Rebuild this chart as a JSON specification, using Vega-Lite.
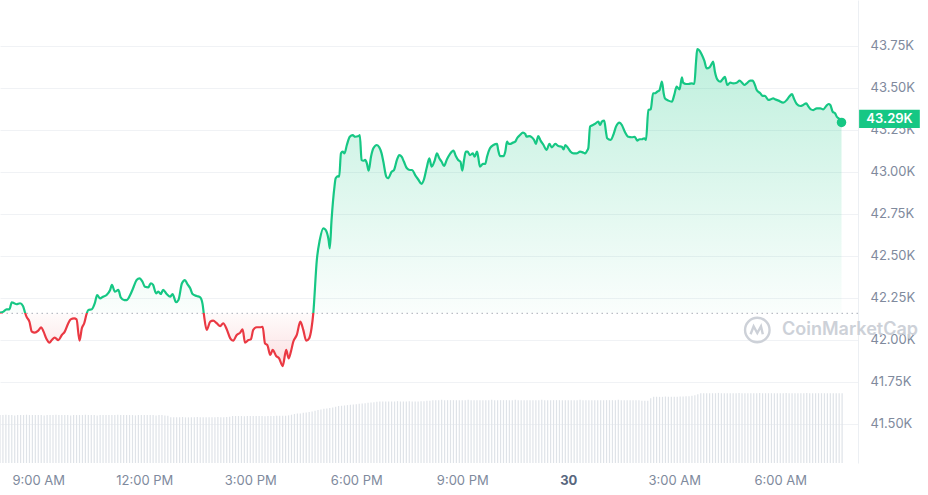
{
"$schema":"https://vega.github.io/schema/vega-lite/v6.json",
"width":858,"height":463,
"autosize":{"type":"none"},
"padding":{"left":0,"top":0,"right":70,"bottom":32},
"background":"#ffffff",
"config":{"view":{"stroke":null},"font":"Inter"},
"datasets":{
"price":[
{"t":"2024-01-29T07:55Z","p":42160},{"t":"2024-01-29T08:01Z","p":42166},{"t":"2024-01-29T08:06Z","p":42180},{"t":"2024-01-29T08:11Z","p":42180},{"t":"2024-01-29T08:15Z","p":42222},{"t":"2024-01-29T08:19Z","p":42216},{"t":"2024-01-29T08:23Z","p":42210},{"t":"2024-01-29T08:29Z","p":42216},{"t":"2024-01-29T08:34Z","p":42200},{"t":"2024-01-29T08:37Z","p":42166},{"t":"2024-01-29T08:40Z","p":42136},{"t":"2024-01-29T08:45Z","p":42106},{"t":"2024-01-29T08:49Z","p":42047},{"t":"2024-01-29T08:54Z","p":42041},{"t":"2024-01-29T09:00Z","p":42053},{"t":"2024-01-29T09:05Z","p":42073},{"t":"2024-01-29T09:09Z","p":42047},{"t":"2024-01-29T09:14Z","p":42003},{"t":"2024-01-29T09:19Z","p":41981},{"t":"2024-01-29T09:23Z","p":41997},{"t":"2024-01-29T09:28Z","p":42011},{"t":"2024-01-29T09:34Z","p":41997},{"t":"2024-01-29T09:40Z","p":42027},{"t":"2024-01-29T09:45Z","p":42047},{"t":"2024-01-29T09:51Z","p":42097},{"t":"2024-01-29T09:55Z","p":42120},{"t":"2024-01-29T10:01Z","p":42126},{"t":"2024-01-29T10:05Z","p":42120},{"t":"2024-01-29T10:10Z","p":41993},{"t":"2024-01-29T10:14Z","p":42067},{"t":"2024-01-29T10:18Z","p":42097},{"t":"2024-01-29T10:22Z","p":42152},{"t":"2024-01-29T10:25Z","p":42176},{"t":"2024-01-29T10:31Z","p":42180},{"t":"2024-01-29T10:36Z","p":42216},{"t":"2024-01-29T10:40Z","p":42265},{"t":"2024-01-29T10:45Z","p":42245},{"t":"2024-01-29T10:50Z","p":42255},{"t":"2024-01-29T10:56Z","p":42265},{"t":"2024-01-29T11:02Z","p":42295},{"t":"2024-01-29T11:05Z","p":42325},{"t":"2024-01-29T11:10Z","p":42285},{"t":"2024-01-29T11:16Z","p":42295},{"t":"2024-01-29T11:20Z","p":42251},{"t":"2024-01-29T11:26Z","p":42235},{"t":"2024-01-29T11:30Z","p":42235},{"t":"2024-01-29T11:36Z","p":42265},{"t":"2024-01-29T11:41Z","p":42305},{"t":"2024-01-29T11:47Z","p":42354},{"t":"2024-01-29T11:52Z","p":42364},{"t":"2024-01-29T11:57Z","p":42344},{"t":"2024-01-29T12:01Z","p":42314},{"t":"2024-01-29T12:07Z","p":42311},{"t":"2024-01-29T12:11Z","p":42335},{"t":"2024-01-29T12:15Z","p":42325},{"t":"2024-01-29T12:20Z","p":42275},{"t":"2024-01-29T12:24Z","p":42285},{"t":"2024-01-29T12:28Z","p":42271},{"t":"2024-01-29T12:32Z","p":42295},{"t":"2024-01-29T12:38Z","p":42271},{"t":"2024-01-29T12:44Z","p":42255},{"t":"2024-01-29T12:48Z","p":42271},{"t":"2024-01-29T12:54Z","p":42222},{"t":"2024-01-29T12:58Z","p":42235},{"t":"2024-01-29T13:04Z","p":42335},{"t":"2024-01-29T13:09Z","p":42354},{"t":"2024-01-29T13:13Z","p":42331},{"t":"2024-01-29T13:18Z","p":42305},{"t":"2024-01-29T13:22Z","p":42271},{"t":"2024-01-29T13:29Z","p":42259},{"t":"2024-01-29T13:35Z","p":42251},{"t":"2024-01-29T13:39Z","p":42211},{"t":"2024-01-29T13:41Z","p":42156},{"t":"2024-01-29T13:46Z","p":42057},{"t":"2024-01-29T13:52Z","p":42106},{"t":"2024-01-29T13:57Z","p":42112},{"t":"2024-01-29T14:03Z","p":42097},{"t":"2024-01-29T14:09Z","p":42080},{"t":"2024-01-29T14:14Z","p":42097},{"t":"2024-01-29T14:20Z","p":42061},{"t":"2024-01-29T14:26Z","p":42007},{"t":"2024-01-29T14:31Z","p":41993},{"t":"2024-01-29T14:37Z","p":42027},{"t":"2024-01-29T14:43Z","p":42041},{"t":"2024-01-29T14:47Z","p":42061},{"t":"2024-01-29T14:51Z","p":41981},{"t":"2024-01-29T14:57Z","p":41997},{"t":"2024-01-29T15:01Z","p":42001},{"t":"2024-01-29T15:05Z","p":42057},{"t":"2024-01-29T15:11Z","p":42073},{"t":"2024-01-29T15:17Z","p":42073},{"t":"2024-01-29T15:21Z","p":42076},{"t":"2024-01-29T15:25Z","p":41977},{"t":"2024-01-29T15:29Z","p":41967},{"t":"2024-01-29T15:34Z","p":41908},{"t":"2024-01-29T15:38Z","p":41938},{"t":"2024-01-29T15:44Z","p":41902},{"t":"2024-01-29T15:49Z","p":41888},{"t":"2024-01-29T15:55Z","p":41842},{"t":"2024-01-29T16:01Z","p":41938},{"t":"2024-01-29T16:05Z","p":41888},{"t":"2024-01-29T16:09Z","p":41928},{"t":"2024-01-29T16:13Z","p":41987},{"t":"2024-01-29T16:19Z","p":42027},{"t":"2024-01-29T16:25Z","p":42106},{"t":"2024-01-29T16:30Z","p":42057},{"t":"2024-01-29T16:35Z","p":41993},{"t":"2024-01-29T16:40Z","p":42007},{"t":"2024-01-29T16:44Z","p":42067},{"t":"2024-01-29T16:47Z","p":42156},{"t":"2024-01-29T16:53Z","p":42473},{"t":"2024-01-29T16:58Z","p":42592},{"t":"2024-01-29T17:04Z","p":42662},{"t":"2024-01-29T17:08Z","p":42652},{"t":"2024-01-29T17:13Z","p":42592},{"t":"2024-01-29T17:15Z","p":42543},{"t":"2024-01-29T17:18Z","p":42711},{"t":"2024-01-29T17:23Z","p":42910},{"t":"2024-01-29T17:25Z","p":42960},{"t":"2024-01-29T17:29Z","p":42973},{"t":"2024-01-29T17:31Z","p":42969},{"t":"2024-01-29T17:34Z","p":43108},{"t":"2024-01-29T17:37Z","p":43118},{"t":"2024-01-29T17:40Z","p":43108},{"t":"2024-01-29T17:44Z","p":43158},{"t":"2024-01-29T17:49Z","p":43207},{"t":"2024-01-29T17:54Z","p":43217},{"t":"2024-01-29T17:58Z","p":43207},{"t":"2024-01-29T18:04Z","p":43211},{"t":"2024-01-29T18:06Z","p":43217},{"t":"2024-01-29T18:09Z","p":43069},{"t":"2024-01-29T18:12Z","p":43064},{"t":"2024-01-29T18:15Z","p":43069},{"t":"2024-01-29T18:18Z","p":43049},{"t":"2024-01-29T18:21Z","p":43005},{"t":"2024-01-29T18:25Z","p":43088},{"t":"2024-01-29T18:29Z","p":43138},{"t":"2024-01-29T18:35Z","p":43158},{"t":"2024-01-29T18:39Z","p":43144},{"t":"2024-01-29T18:43Z","p":43108},{"t":"2024-01-29T18:46Z","p":43058},{"t":"2024-01-29T18:51Z","p":42969},{"t":"2024-01-29T18:54Z","p":42960},{"t":"2024-01-29T19:00Z","p":42999},{"t":"2024-01-29T19:04Z","p":43009},{"t":"2024-01-29T19:09Z","p":43069},{"t":"2024-01-29T19:13Z","p":43098},{"t":"2024-01-29T19:17Z","p":43088},{"t":"2024-01-29T19:21Z","p":43058},{"t":"2024-01-29T19:26Z","p":43019},{"t":"2024-01-29T19:31Z","p":43009},{"t":"2024-01-29T19:35Z","p":43009},{"t":"2024-01-29T19:40Z","p":42979},{"t":"2024-01-29T19:45Z","p":42954},{"t":"2024-01-29T19:51Z","p":42926},{"t":"2024-01-29T19:55Z","p":42954},{"t":"2024-01-29T20:00Z","p":43029},{"t":"2024-01-29T20:04Z","p":43079},{"t":"2024-01-29T20:08Z","p":43029},{"t":"2024-01-29T20:13Z","p":43064},{"t":"2024-01-29T20:17Z","p":43108},{"t":"2024-01-29T20:21Z","p":43079},{"t":"2024-01-29T20:25Z","p":43058},{"t":"2024-01-29T20:29Z","p":43033},{"t":"2024-01-29T20:34Z","p":43073},{"t":"2024-01-29T20:39Z","p":43104},{"t":"2024-01-29T20:45Z","p":43124},{"t":"2024-01-29T20:49Z","p":43092},{"t":"2024-01-29T20:53Z","p":43069},{"t":"2024-01-29T20:57Z","p":43058},{"t":"2024-01-29T21:00Z","p":43005},{"t":"2024-01-29T21:03Z","p":43069},{"t":"2024-01-29T21:06Z","p":43118},{"t":"2024-01-29T21:09Z","p":43118},{"t":"2024-01-29T21:13Z","p":43098},{"t":"2024-01-29T21:18Z","p":43108},{"t":"2024-01-29T21:21Z","p":43088},{"t":"2024-01-29T21:25Z","p":43118},{"t":"2024-01-29T21:27Z","p":43088},{"t":"2024-01-29T21:30Z","p":43029},{"t":"2024-01-29T21:35Z","p":43045},{"t":"2024-01-29T21:39Z","p":43045},{"t":"2024-01-29T21:42Z","p":43088},{"t":"2024-01-29T21:47Z","p":43138},{"t":"2024-01-29T21:53Z","p":43158},{"t":"2024-01-29T21:59Z","p":43164},{"t":"2024-01-29T22:01Z","p":43128},{"t":"2024-01-29T22:04Z","p":43092},{"t":"2024-01-29T22:10Z","p":43092},{"t":"2024-01-29T22:13Z","p":43118},{"t":"2024-01-29T22:16Z","p":43178},{"t":"2024-01-29T22:18Z","p":43168},{"t":"2024-01-29T22:21Z","p":43164},{"t":"2024-01-29T22:26Z","p":43172},{"t":"2024-01-29T22:30Z","p":43178},{"t":"2024-01-29T22:33Z","p":43198},{"t":"2024-01-29T22:38Z","p":43217},{"t":"2024-01-29T22:43Z","p":43231},{"t":"2024-01-29T22:47Z","p":43223},{"t":"2024-01-29T22:49Z","p":43207},{"t":"2024-01-29T22:54Z","p":43211},{"t":"2024-01-29T22:58Z","p":43204},{"t":"2024-01-29T23:02Z","p":43188},{"t":"2024-01-29T23:05Z","p":43164},{"t":"2024-01-29T23:09Z","p":43211},{"t":"2024-01-29T23:13Z","p":43184},{"t":"2024-01-29T23:18Z","p":43158},{"t":"2024-01-29T23:23Z","p":43128},{"t":"2024-01-29T23:28Z","p":43164},{"t":"2024-01-29T23:32Z","p":43144},{"t":"2024-01-29T23:38Z","p":43164},{"t":"2024-01-29T23:43Z","p":43152},{"t":"2024-01-29T23:49Z","p":43148},{"t":"2024-01-29T23:52Z","p":43132},{"t":"2024-01-29T23:55Z","p":43158},
{"t":"2024-01-30T00:00Z","p":43138},{"t":"2024-01-30T00:04Z","p":43118},{"t":"2024-01-30T00:09Z","p":43108},{"t":"2024-01-30T00:14Z","p":43108},{"t":"2024-01-30T00:20Z","p":43118},{"t":"2024-01-30T00:26Z","p":43112},{"t":"2024-01-30T00:29Z","p":43108},{"t":"2024-01-30T00:32Z","p":43124},{"t":"2024-01-30T00:34Z","p":43138},{"t":"2024-01-30T00:37Z","p":43267},{"t":"2024-01-30T00:40Z","p":43274},{"t":"2024-01-30T00:45Z","p":43283},{"t":"2024-01-30T00:51Z","p":43297},{"t":"2024-01-30T00:54Z","p":43277},{"t":"2024-01-30T00:57Z","p":43297},{"t":"2024-01-30T01:01Z","p":43303},{"t":"2024-01-30T01:04Z","p":43237},{"t":"2024-01-30T01:06Z","p":43198},{"t":"2024-01-30T01:12Z","p":43188},{"t":"2024-01-30T01:17Z","p":43223},{"t":"2024-01-30T01:21Z","p":43267},{"t":"2024-01-30T01:27Z","p":43291},{"t":"2024-01-30T01:31Z","p":43277},{"t":"2024-01-30T01:36Z","p":43237},{"t":"2024-01-30T01:42Z","p":43207},{"t":"2024-01-30T01:48Z","p":43204},{"t":"2024-01-30T01:53Z","p":43207},{"t":"2024-01-30T01:57Z","p":43184},{"t":"2024-01-30T02:01Z","p":43192},{"t":"2024-01-30T02:05Z","p":43192},{"t":"2024-01-30T02:09Z","p":43198},{"t":"2024-01-30T02:12Z","p":43188},{"t":"2024-01-30T02:16Z","p":43366},{"t":"2024-01-30T02:20Z","p":43370},{"t":"2024-01-30T02:24Z","p":43466},{"t":"2024-01-30T02:27Z","p":43466},{"t":"2024-01-30T02:31Z","p":43475},{"t":"2024-01-30T02:35Z","p":43485},{"t":"2024-01-30T02:39Z","p":43535},{"t":"2024-01-30T02:42Z","p":43466},{"t":"2024-01-30T02:44Z","p":43436},{"t":"2024-01-30T02:50Z","p":43422},{"t":"2024-01-30T02:56Z","p":43416},{"t":"2024-01-30T03:00Z","p":43456},{"t":"2024-01-30T03:04Z","p":43505},{"t":"2024-01-30T03:09Z","p":43489},{"t":"2024-01-30T03:13Z","p":43561},{"t":"2024-01-30T03:15Z","p":43529},{"t":"2024-01-30T03:20Z","p":43521},{"t":"2024-01-30T03:24Z","p":43521},{"t":"2024-01-30T03:30Z","p":43525},{"t":"2024-01-30T03:34Z","p":43521},{"t":"2024-01-30T03:37Z","p":43654},{"t":"2024-01-30T03:39Z","p":43728},{"t":"2024-01-30T03:43Z","p":43719},{"t":"2024-01-30T03:47Z","p":43694},{"t":"2024-01-30T03:51Z","p":43660},{"t":"2024-01-30T03:55Z","p":43614},{"t":"2024-01-30T04:00Z","p":43620},{"t":"2024-01-30T04:04Z","p":43644},{"t":"2024-01-30T04:06Z","p":43654},{"t":"2024-01-30T04:09Z","p":43594},{"t":"2024-01-30T04:13Z","p":43549},{"t":"2024-01-30T04:18Z","p":43535},{"t":"2024-01-30T04:22Z","p":43549},{"t":"2024-01-30T04:26Z","p":43564},{"t":"2024-01-30T04:30Z","p":43515},{"t":"2024-01-30T04:35Z","p":43529},{"t":"2024-01-30T04:40Z","p":43525},{"t":"2024-01-30T04:46Z","p":43529},{"t":"2024-01-30T04:51Z","p":43541},{"t":"2024-01-30T04:55Z","p":43529},{"t":"2024-01-30T04:59Z","p":43515},{"t":"2024-01-30T05:03Z","p":43525},{"t":"2024-01-30T05:09Z","p":43541},{"t":"2024-01-30T05:13Z","p":43541},{"t":"2024-01-30T05:17Z","p":43515},{"t":"2024-01-30T05:20Z","p":43485},{"t":"2024-01-30T05:26Z","p":43466},{"t":"2024-01-30T05:30Z","p":43450},{"t":"2024-01-30T05:34Z","p":43450},{"t":"2024-01-30T05:40Z","p":43426},{"t":"2024-01-30T05:44Z","p":43430},{"t":"2024-01-30T05:48Z","p":43436},{"t":"2024-01-30T05:51Z","p":43430},{"t":"2024-01-30T05:57Z","p":43422},{"t":"2024-01-30T06:05Z","p":43410},{"t":"2024-01-30T06:11Z","p":43426},{"t":"2024-01-30T06:15Z","p":43445},{"t":"2024-01-30T06:20Z","p":43461},{"t":"2024-01-30T06:23Z","p":43436},{"t":"2024-01-30T06:28Z","p":43402},{"t":"2024-01-30T06:34Z","p":43390},{"t":"2024-01-30T06:39Z","p":43396},{"t":"2024-01-30T06:44Z","p":43406},{"t":"2024-01-30T06:48Z","p":43386},{"t":"2024-01-30T06:52Z","p":43370},{"t":"2024-01-30T06:56Z","p":43366},{"t":"2024-01-30T07:02Z","p":43376},{"t":"2024-01-30T07:08Z","p":43376},{"t":"2024-01-30T07:13Z","p":43370},{"t":"2024-01-30T07:18Z","p":43390},{"t":"2024-01-30T07:22Z","p":43402},{"t":"2024-01-30T07:25Z","p":43396},{"t":"2024-01-30T07:29Z","p":43356},{"t":"2024-01-30T07:33Z","p":43347},{"t":"2024-01-30T07:36Z","p":43326},{"t":"2024-01-30T07:42Z","p":43307},{"t":"2024-01-30T07:44Z","p":43292}
],
"vol":[
{"t":"2024-01-29T07:55Z","v":14.5},{"t":"2024-01-29T08:00Z","v":14.5},{"t":"2024-01-29T08:05Z","v":14.6},{"t":"2024-01-29T08:10Z","v":14.5},{"t":"2024-01-29T08:15Z","v":14.5},{"t":"2024-01-29T08:20Z","v":14.4},{"t":"2024-01-29T08:25Z","v":14.5},{"t":"2024-01-29T08:30Z","v":14.5},{"t":"2024-01-29T08:35Z","v":14.5},{"t":"2024-01-29T08:40Z","v":14.6},{"t":"2024-01-29T08:45Z","v":14.5},{"t":"2024-01-29T08:50Z","v":14.5},{"t":"2024-01-29T08:55Z","v":14.5},
{"t":"2024-01-29T09:00Z","v":14.5},{"t":"2024-01-29T09:05Z","v":14.5},{"t":"2024-01-29T09:10Z","v":14.4},{"t":"2024-01-29T09:15Z","v":14.5},{"t":"2024-01-29T09:20Z","v":14.5},{"t":"2024-01-29T09:25Z","v":14.5},{"t":"2024-01-29T09:30Z","v":14.6},{"t":"2024-01-29T09:35Z","v":14.5},{"t":"2024-01-29T09:40Z","v":14.5},{"t":"2024-01-29T09:45Z","v":14.5},{"t":"2024-01-29T09:50Z","v":14.5},{"t":"2024-01-29T09:55Z","v":14.4},
{"t":"2024-01-29T10:00Z","v":14.5},{"t":"2024-01-29T10:05Z","v":14.5},{"t":"2024-01-29T10:10Z","v":14.5},{"t":"2024-01-29T10:15Z","v":14.5},{"t":"2024-01-29T10:20Z","v":14.6},{"t":"2024-01-29T10:25Z","v":14.5},{"t":"2024-01-29T10:30Z","v":14.5},{"t":"2024-01-29T10:35Z","v":14.5},{"t":"2024-01-29T10:40Z","v":14.4},{"t":"2024-01-29T10:45Z","v":14.5},{"t":"2024-01-29T10:50Z","v":14.5},{"t":"2024-01-29T10:55Z","v":14.5},
{"t":"2024-01-29T11:00Z","v":14.5},{"t":"2024-01-29T11:05Z","v":14.5},{"t":"2024-01-29T11:10Z","v":14.5},{"t":"2024-01-29T11:15Z","v":14.6},{"t":"2024-01-29T11:20Z","v":14.5},{"t":"2024-01-29T11:25Z","v":14.5},{"t":"2024-01-29T11:30Z","v":14.5},{"t":"2024-01-29T11:35Z","v":14.5},{"t":"2024-01-29T11:40Z","v":14.5},{"t":"2024-01-29T11:45Z","v":14.4},{"t":"2024-01-29T11:50Z","v":14.5},{"t":"2024-01-29T11:55Z","v":14.5},
{"t":"2024-01-29T12:00Z","v":14.5},{"t":"2024-01-29T12:05Z","v":14.5},{"t":"2024-01-29T12:10Z","v":14.5},{"t":"2024-01-29T12:15Z","v":14.5},{"t":"2024-01-29T12:20Z","v":14.4},{"t":"2024-01-29T12:25Z","v":14.5},{"t":"2024-01-29T12:30Z","v":14.5},{"t":"2024-01-29T12:35Z","v":14.4},{"t":"2024-01-29T12:40Z","v":14.3},{"t":"2024-01-29T12:45Z","v":13.8},{"t":"2024-01-29T12:50Z","v":13.8},{"t":"2024-01-29T12:55Z","v":13.8},
{"t":"2024-01-29T13:00Z","v":13.8},{"t":"2024-01-29T13:05Z","v":13.9},{"t":"2024-01-29T13:10Z","v":13.8},{"t":"2024-01-29T13:15Z","v":13.8},{"t":"2024-01-29T13:20Z","v":13.8},{"t":"2024-01-29T13:25Z","v":13.8},{"t":"2024-01-29T13:30Z","v":13.9},{"t":"2024-01-29T13:35Z","v":13.8},{"t":"2024-01-29T13:40Z","v":13.8},{"t":"2024-01-29T13:45Z","v":13.8},{"t":"2024-01-29T13:50Z","v":13.8},{"t":"2024-01-29T13:55Z","v":13.8},
{"t":"2024-01-29T14:00Z","v":13.8},{"t":"2024-01-29T14:05Z","v":13.9},{"t":"2024-01-29T14:10Z","v":13.8},{"t":"2024-01-29T14:15Z","v":13.8},{"t":"2024-01-29T14:20Z","v":13.9},{"t":"2024-01-29T14:25Z","v":14.0},{"t":"2024-01-29T14:30Z","v":14.2},{"t":"2024-01-29T14:35Z","v":14.2},{"t":"2024-01-29T14:40Z","v":14.2},{"t":"2024-01-29T14:45Z","v":14.2},{"t":"2024-01-29T14:50Z","v":14.1},{"t":"2024-01-29T14:55Z","v":14.2},
{"t":"2024-01-29T15:00Z","v":14.2},{"t":"2024-01-29T15:05Z","v":14.2},{"t":"2024-01-29T15:10Z","v":14.2},{"t":"2024-01-29T15:15Z","v":14.2},{"t":"2024-01-29T15:20Z","v":14.2},{"t":"2024-01-29T15:25Z","v":14.1},{"t":"2024-01-29T15:30Z","v":14.2},{"t":"2024-01-29T15:35Z","v":14.2},{"t":"2024-01-29T15:40Z","v":14.2},{"t":"2024-01-29T15:45Z","v":14.3},{"t":"2024-01-29T15:50Z","v":14.3},{"t":"2024-01-29T15:55Z","v":14.3},
{"t":"2024-01-29T16:00Z","v":14.3},{"t":"2024-01-29T16:05Z","v":14.4},{"t":"2024-01-29T16:10Z","v":14.6},{"t":"2024-01-29T16:15Z","v":14.8},{"t":"2024-01-29T16:20Z","v":15.0},{"t":"2024-01-29T16:25Z","v":15.0},{"t":"2024-01-29T16:30Z","v":15.2},{"t":"2024-01-29T16:35Z","v":15.3},{"t":"2024-01-29T16:40Z","v":15.4},{"t":"2024-01-29T16:45Z","v":15.6},{"t":"2024-01-29T16:50Z","v":15.8},{"t":"2024-01-29T16:55Z","v":16.0},
{"t":"2024-01-29T17:00Z","v":16.2},{"t":"2024-01-29T17:05Z","v":16.4},{"t":"2024-01-29T17:10Z","v":16.5},{"t":"2024-01-29T17:15Z","v":16.6},{"t":"2024-01-29T17:20Z","v":16.8},{"t":"2024-01-29T17:25Z","v":17.0},{"t":"2024-01-29T17:30Z","v":17.2},{"t":"2024-01-29T17:35Z","v":17.3},{"t":"2024-01-29T17:40Z","v":17.4},{"t":"2024-01-29T17:45Z","v":17.5},{"t":"2024-01-29T17:50Z","v":17.6},{"t":"2024-01-29T17:55Z","v":17.7},
{"t":"2024-01-29T18:00Z","v":17.8},{"t":"2024-01-29T18:05Z","v":17.9},{"t":"2024-01-29T18:10Z","v":18.0},{"t":"2024-01-29T18:15Z","v":18.1},{"t":"2024-01-29T18:20Z","v":18.2},{"t":"2024-01-29T18:25Z","v":18.3},{"t":"2024-01-29T18:30Z","v":18.4},{"t":"2024-01-29T18:35Z","v":18.5},{"t":"2024-01-29T18:40Z","v":18.6},{"t":"2024-01-29T18:45Z","v":18.6},{"t":"2024-01-29T18:50Z","v":18.6},{"t":"2024-01-29T18:55Z","v":18.6},
{"t":"2024-01-29T19:00Z","v":18.6},{"t":"2024-01-29T19:05Z","v":18.6},{"t":"2024-01-29T19:10Z","v":18.7},{"t":"2024-01-29T19:15Z","v":18.6},{"t":"2024-01-29T19:20Z","v":18.6},{"t":"2024-01-29T19:25Z","v":18.6},{"t":"2024-01-29T19:30Z","v":18.7},{"t":"2024-01-29T19:35Z","v":18.6},{"t":"2024-01-29T19:40Z","v":18.6},{"t":"2024-01-29T19:45Z","v":18.6},{"t":"2024-01-29T19:50Z","v":18.7},{"t":"2024-01-29T19:55Z","v":18.7},
{"t":"2024-01-29T20:00Z","v":18.8},{"t":"2024-01-29T20:05Z","v":18.8},{"t":"2024-01-29T20:10Z","v":19.0},{"t":"2024-01-29T20:15Z","v":19.0},{"t":"2024-01-29T20:20Z","v":19.0},{"t":"2024-01-29T20:25Z","v":19.1},{"t":"2024-01-29T20:30Z","v":19.0},{"t":"2024-01-29T20:35Z","v":19.0},{"t":"2024-01-29T20:40Z","v":19.0},{"t":"2024-01-29T20:45Z","v":19.0},{"t":"2024-01-29T20:50Z","v":19.0},{"t":"2024-01-29T20:55Z","v":19.0},
{"t":"2024-01-29T21:00Z","v":19.0},{"t":"2024-01-29T21:05Z","v":19.0},{"t":"2024-01-29T21:10Z","v":19.1},{"t":"2024-01-29T21:15Z","v":19.0},{"t":"2024-01-29T21:20Z","v":19.0},{"t":"2024-01-29T21:25Z","v":19.0},{"t":"2024-01-29T21:30Z","v":19.0},{"t":"2024-01-29T21:35Z","v":19.0},{"t":"2024-01-29T21:40Z","v":19.0},{"t":"2024-01-29T21:45Z","v":19.0},{"t":"2024-01-29T21:50Z","v":19.1},{"t":"2024-01-29T21:55Z","v":19.0},
{"t":"2024-01-29T22:00Z","v":19.0},{"t":"2024-01-29T22:05Z","v":19.0},{"t":"2024-01-29T22:10Z","v":19.0},{"t":"2024-01-29T22:15Z","v":19.0},{"t":"2024-01-29T22:20Z","v":19.0},{"t":"2024-01-29T22:25Z","v":19.0},{"t":"2024-01-29T22:30Z","v":19.1},{"t":"2024-01-29T22:35Z","v":19.0},{"t":"2024-01-29T22:40Z","v":19.0},{"t":"2024-01-29T22:45Z","v":19.0},{"t":"2024-01-29T22:50Z","v":19.0},{"t":"2024-01-29T22:55Z","v":19.0},
{"t":"2024-01-29T23:00Z","v":19.0},{"t":"2024-01-29T23:05Z","v":19.0},{"t":"2024-01-29T23:10Z","v":19.0},{"t":"2024-01-29T23:15Z","v":19.1},{"t":"2024-01-29T23:20Z","v":19.0},{"t":"2024-01-29T23:25Z","v":19.0},{"t":"2024-01-29T23:30Z","v":19.0},{"t":"2024-01-29T23:35Z","v":19.0},{"t":"2024-01-29T23:40Z","v":19.0},{"t":"2024-01-29T23:45Z","v":19.0},{"t":"2024-01-29T23:50Z","v":19.0},{"t":"2024-01-29T23:55Z","v":19.0},
{"t":"2024-01-30T00:00Z","v":19.0},{"t":"2024-01-30T00:05Z","v":19.0},{"t":"2024-01-30T00:10Z","v":19.0},{"t":"2024-01-30T00:15Z","v":19.0},{"t":"2024-01-30T00:20Z","v":19.1},{"t":"2024-01-30T00:25Z","v":19.0},{"t":"2024-01-30T00:30Z","v":19.0},{"t":"2024-01-30T00:35Z","v":19.0},{"t":"2024-01-30T00:40Z","v":19.0},{"t":"2024-01-30T00:45Z","v":19.0},{"t":"2024-01-30T00:50Z","v":19.0},{"t":"2024-01-30T00:55Z","v":19.0},
{"t":"2024-01-30T01:00Z","v":19.0},{"t":"2024-01-30T01:05Z","v":19.0},{"t":"2024-01-30T01:10Z","v":19.0},{"t":"2024-01-30T01:15Z","v":19.0},{"t":"2024-01-30T01:20Z","v":19.0},{"t":"2024-01-30T01:25Z","v":19.1},{"t":"2024-01-30T01:30Z","v":19.0},{"t":"2024-01-30T01:35Z","v":19.0},{"t":"2024-01-30T01:40Z","v":19.0},{"t":"2024-01-30T01:45Z","v":19.0},{"t":"2024-01-30T01:50Z","v":19.0},{"t":"2024-01-30T01:55Z","v":19.0},
{"t":"2024-01-30T02:00Z","v":19.0},{"t":"2024-01-30T02:05Z","v":18.8},{"t":"2024-01-30T02:10Z","v":18.8},{"t":"2024-01-30T02:15Z","v":18.8},{"t":"2024-01-30T02:20Z","v":19.6},{"t":"2024-01-30T02:25Z","v":20.0},{"t":"2024-01-30T02:30Z","v":20.0},{"t":"2024-01-30T02:35Z","v":20.0},{"t":"2024-01-30T02:40Z","v":20.0},{"t":"2024-01-30T02:45Z","v":20.1},{"t":"2024-01-30T02:50Z","v":20.0},{"t":"2024-01-30T02:55Z","v":20.0},
{"t":"2024-01-30T03:00Z","v":20.0},{"t":"2024-01-30T03:05Z","v":20.0},{"t":"2024-01-30T03:10Z","v":20.1},{"t":"2024-01-30T03:15Z","v":20.1},{"t":"2024-01-30T03:20Z","v":20.2},{"t":"2024-01-30T03:25Z","v":20.2},{"t":"2024-01-30T03:30Z","v":20.3},{"t":"2024-01-30T03:35Z","v":20.5},{"t":"2024-01-30T03:40Z","v":20.8},{"t":"2024-01-30T03:45Z","v":21.1},{"t":"2024-01-30T03:50Z","v":21.1},{"t":"2024-01-30T03:55Z","v":21.1},
{"t":"2024-01-30T04:00Z","v":21.1},{"t":"2024-01-30T04:05Z","v":21.1},{"t":"2024-01-30T04:10Z","v":21.1},{"t":"2024-01-30T04:15Z","v":21.2},{"t":"2024-01-30T04:20Z","v":21.1},{"t":"2024-01-30T04:25Z","v":21.1},{"t":"2024-01-30T04:30Z","v":21.1},{"t":"2024-01-30T04:35Z","v":21.1},{"t":"2024-01-30T04:40Z","v":21.1},{"t":"2024-01-30T04:45Z","v":21.1},{"t":"2024-01-30T04:50Z","v":21.2},{"t":"2024-01-30T04:55Z","v":21.1},
{"t":"2024-01-30T05:00Z","v":21.1},{"t":"2024-01-30T05:05Z","v":21.1},{"t":"2024-01-30T05:10Z","v":21.1},{"t":"2024-01-30T05:15Z","v":21.1},{"t":"2024-01-30T05:20Z","v":21.1},{"t":"2024-01-30T05:25Z","v":21.2},{"t":"2024-01-30T05:30Z","v":21.1},{"t":"2024-01-30T05:35Z","v":21.1},{"t":"2024-01-30T05:40Z","v":21.1},{"t":"2024-01-30T05:45Z","v":21.1},{"t":"2024-01-30T05:50Z","v":21.1},{"t":"2024-01-30T05:55Z","v":21.1},
{"t":"2024-01-30T06:00Z","v":21.1},{"t":"2024-01-30T06:05Z","v":21.1},{"t":"2024-01-30T06:10Z","v":21.2},{"t":"2024-01-30T06:15Z","v":21.1},{"t":"2024-01-30T06:20Z","v":21.1},{"t":"2024-01-30T06:25Z","v":21.1},{"t":"2024-01-30T06:30Z","v":21.1},{"t":"2024-01-30T06:35Z","v":21.1},{"t":"2024-01-30T06:40Z","v":21.1},{"t":"2024-01-30T06:45Z","v":21.2},{"t":"2024-01-30T06:50Z","v":21.1},{"t":"2024-01-30T06:55Z","v":21.1},
{"t":"2024-01-30T07:00Z","v":21.1},{"t":"2024-01-30T07:05Z","v":21.1},{"t":"2024-01-30T07:10Z","v":21.1},{"t":"2024-01-30T07:15Z","v":21.1},{"t":"2024-01-30T07:20Z","v":21.1},{"t":"2024-01-30T07:25Z","v":21.1},{"t":"2024-01-30T07:30Z","v":21.1},{"t":"2024-01-30T07:35Z","v":21.1},{"t":"2024-01-30T07:40Z","v":21.1},{"t":"2024-01-30T07:45Z","v":21.1}
]
},
"layer":[
{
"data":{"name":"vol"},
"mark":{"type":"bar","width":1.2,"color":"#dfe3e8"},
"encoding":{
"x":{"field":"t","type":"temporal",
"scale":{"type":"utc","padding":0,"domain":[{"year":2024,"month":1,"date":29,"hours":7,"minutes":55,"utc":true},{"year":2024,"month":1,"date":30,"hours":8,"minutes":12,"utc":true}]},
"axis":{"title":null,"grid":false,"ticks":false,"domain":false,"labelPadding":11,"labelFontSize":13,"labelFont":"Inter","labelFlush":false,"labelOverlap":false,
"values":[{"year":2024,"month":1,"date":29,"hours":9,"utc":true},{"year":2024,"month":1,"date":29,"hours":12,"utc":true},{"year":2024,"month":1,"date":29,"hours":15,"utc":true},{"year":2024,"month":1,"date":29,"hours":18,"utc":true},{"year":2024,"month":1,"date":29,"hours":21,"utc":true},{"year":2024,"month":1,"date":30,"hours":0,"utc":true},{"year":2024,"month":1,"date":30,"hours":3,"utc":true},{"year":2024,"month":1,"date":30,"hours":6,"utc":true}],
"labelExpr":"utchours(datum.value) == 0 ? utcFormat(datum.value, '%-d') : utcFormat(datum.value, '%-I:%M %p')",
"labelColor":{"condition":{"test":"utchours(datum.value) == 0","value":"#58667e"},"value":"#808a9d"},
"labelFontWeight":{"condition":{"test":"utchours(datum.value) == 0","value":"bold"},"value":"normal"}}},
"y":{"field":"v","type":"quantitative","scale":{"domain":[0,140],"nice":false,"zero":true},"axis":null}
}
},
{
"layer":[
{
"data":{"name":"price"},
"mark":{"type":"area","interpolate":"monotone","opacity":1,
"color":{"gradient":"linear","x1":0,"y1":0,"x2":0,"y2":1,"stops":[{"offset":0,"color":"rgba(22,199,132,0.28)"},{"offset":0.8335,"color":"rgba(22,199,132,0.02)"},{"offset":0.8335,"color":"rgba(234,57,67,0.02)"},{"offset":1,"color":"rgba(234,57,67,0.16)"}]}},
"encoding":{
"x":{"field":"t","type":"temporal"},
"y":{"field":"p","type":"quantitative","scale":{"domain":[41265,44021],"nice":false,"zero":false}},
"y2":{"datum":42156}
}
},
{
"data":{"values":[{}]},
"mark":{"type":"rule","strokeDash":[1.5,3.5],"color":"#a9afb8","strokeWidth":1},
"encoding":{"y":{"datum":42156}}
},
{
"data":{"name":"price"},
"mark":{"type":"line","interpolate":"monotone","strokeWidth":2.2,
"color":{"gradient":"linear","x1":0,"y1":0,"x2":0,"y2":1,"stops":[{"offset":0,"color":"#16c784"},{"offset":0.8335,"color":"#16c784"},{"offset":0.8335,"color":"#ea3943"},{"offset":1,"color":"#ea3943"}]}},
"encoding":{
"x":{"field":"t","type":"temporal"},
"y":{"field":"p","type":"quantitative","scale":{"domain":[41265,44021],"nice":false,"zero":false},
"axis":{"orient":"right","title":null,"values":[41500,41750,42000,42250,42500,42750,43000,43250,43500,43750],
"labelExpr":"format(datum.value/1000, '.2f') + 'K'","grid":true,"gridColor":"#f0f2f5","domain":true,"domainColor":"#eceff3","ticks":false,"labelPadding":12,"labelFontSize":13,"labelFont":"Inter","labelColor":"#808a9d"}}
}
},
{
"data":{"name":"price"},
"transform":[{"filter":"datum.p === 43292"}],
"mark":{"type":"point","filled":true,"size":90,"color":"#16c784","opacity":1},
"encoding":{"x":{"field":"t","type":"temporal"},"y":{"field":"p","type":"quantitative"}}
},
{
"data":{"name":"price"},
"transform":[{"filter":"datum.p === 43292"}],
"mark":{"type":"point","filled":true,"size":400,"color":"#16c784","opacity":1,"shape":"M1.76,-1.27H7.83V0.56H1.76Z"},
"encoding":{"x":{"field":"t","type":"temporal"},"y":{"field":"p","type":"quantitative"}}
},
{
"data":{"name":"price"},
"transform":[{"filter":"datum.p === 43292"},{"calculate":"format(datum.p/1000, '.2f') + 'K'","as":"lbl"}],
"mark":{"type":"text","color":"#ffffff","fontSize":13,"fontWeight":600,"font":"Inter","align":"center","baseline":"middle","dx":48,"dy":-3.5},
"encoding":{"x":{"field":"t","type":"temporal"},"y":{"field":"p","type":"quantitative"},"text":{"field":"lbl"}}
},
{
"data":{"values":[{}]},
"mark":{"type":"point","shape":"circle","filled":false,"size":600,"strokeWidth":2.4,"color":"#cdd1d8","opacity":1},
"encoding":{"x":{"datum":{"year":2024,"month":1,"date":30,"hours":5,"minutes":21,"utc":true},"type":"temporal"},"y":{"datum":42057}}
},
{
"data":{"values":[{}]},
"mark":{"type":"point","shape":"M-0.55,0.35L-0.3,-0.3L0,0.25L0.3,-0.3L0.45,0.35","filled":false,"size":600,"strokeWidth":2.4,"color":"#cdd1d8","opacity":1},
"encoding":{"x":{"datum":{"year":2024,"month":1,"date":30,"hours":5,"minutes":21,"utc":true},"type":"temporal"},"y":{"datum":42057}}
},
{
"data":{"values":[{}]},
"mark":{"type":"text","text":"CoinMarketCap","fontSize":18,"fontWeight":600,"font":"Inter","color":"#cdd1d8","align":"left","baseline":"middle"},
"encoding":{"x":{"datum":{"year":2024,"month":1,"date":30,"hours":6,"minutes":3,"utc":true},"type":"temporal"},"y":{"datum":42057}}
}
]
}
],
"resolve":{"scale":{"y":"independent"}}
}
